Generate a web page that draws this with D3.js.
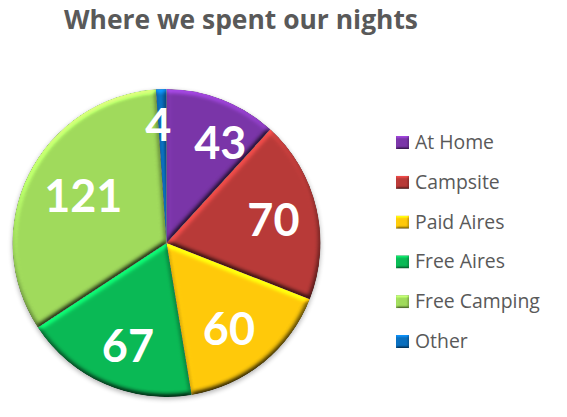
<!DOCTYPE html>
<html>
<head>
<meta charset="utf-8">
<style>
  html, body { margin: 0; padding: 0; background: #fff; }
  svg { display: block; }
</style>
<script src="https://cdn.jsdelivr.net/npm/d3@7"></script>
</head>
<body>
<svg id="chart"></svg>
<script>
const title = 'Where we spent our nights';
const categories = ['At Home', 'Campsite', 'Paid Aires', 'Free Aires', 'Free Camping', 'Other'];
const nights = [43, 70, 60, 67, 121, 4];
const colors = ['#7a35a8', '#b83a38', '#ffc90a', '#0ab955', '#a0da5c', '#0a6fbe'];

const width = 567;
const height = 417;
const cx = 166.5;
const cy = 243;
const radius = 154;

// excel nudged the labels, so each one gets its own distance and turn (degrees)
const labelDist = [0.74, 0.71, 0.69, 0.71, 0.62, 0.77];
const labelTurn = [7, 1, 3, -3, 3, -2];

const svg = d3.select('#chart').attr('width', width).attr('height', height);
const defs = svg.append('defs');

function addBevel(id, blur, scale) {
  const f = defs.append('filter')
    .attr('id', id)
    .attr('x', '-5%').attr('y', '-5%').attr('width', '110%').attr('height', '110%')
    .attr('color-interpolation-filters', 'sRGB');
  f.append('feGaussianBlur').attr('in', 'SourceAlpha').attr('stdDeviation', blur).attr('result', 'soft');
  f.append('feDiffuseLighting')
    .attr('in', 'soft').attr('surfaceScale', scale).attr('diffuseConstant', 1)
    .attr('lighting-color', '#fff').attr('result', 'lit')
    .append('feDistantLight').attr('azimuth', 255).attr('elevation', 45);
  f.append('feComposite')
    .attr('in', 'SourceGraphic').attr('in2', 'lit')
    .attr('operator', 'arithmetic')
    .attr('k1', 1.414).attr('k2', 0).attr('k3', 0).attr('k4', 0)
    .attr('result', 'shaded');
  f.append('feComposite').attr('in', 'shaded').attr('in2', 'SourceAlpha').attr('operator', 'in');
}
addBevel('bevel', 2.5, 2.2);
addBevel('bevelSmall', 1, 0.8);

const shadow = defs.append('filter')
  .attr('id', 'shadow')
  .attr('x', '-10%').attr('y', '-10%').attr('width', '120%').attr('height', '120%');
shadow.append('feGaussianBlur').attr('stdDeviation', 2.5);

svg.append('text')
  .attr('x', 64)
  .attr('y', 29)
  .attr('textLength', 354)
  .attr('lengthAdjust', 'spacingAndGlyphs')
  .attr('font-family', '"Open Sans", sans-serif')
  .attr('font-weight', 700)
  .attr('font-size', 27)
  .attr('fill', '#595959')
  .text(title);

const pie = d3.pie().sort(null)(nights);
const arc = d3.arc().innerRadius(0).outerRadius(radius);

const g = svg.append('g').attr('transform', `translate(${cx},${cy})`);

g.append('circle')
  .attr('cy', 2)
  .attr('r', radius)
  .attr('fill', '#000')
  .attr('opacity', 0.3)
  .attr('filter', 'url(#shadow)');

g.selectAll('path.slice')
  .data(pie)
  .join('path')
  .attr('class', 'slice')
  .attr('d', arc)
  .attr('fill', (d, i) => colors[i])
  .attr('filter', 'url(#bevel)');

g.selectAll('text.value')
  .data(pie)
  .join('text')
  .attr('class', 'value')
  .attr('transform', (d, i) => {
    const a = (d.startAngle + d.endAngle) / 2 + labelTurn[i] * Math.PI / 180;
    const r = radius * labelDist[i];
    return `translate(${Math.sin(a) * r},${-Math.cos(a) * r})`;
  })
  .attr('text-anchor', 'middle')
  .attr('dy', '0.36em')
  .attr('font-family', 'Lato, sans-serif')
  .attr('font-weight', 700)
  .attr('font-size', 45)
  .attr('fill', '#fff')
  .text((d) => d.value);

const legendY = d3.scalePoint().domain(categories).range([142, 341]);

const legend = svg.append('g')
  .selectAll('g')
  .data(categories)
  .join('g')
  .attr('transform', (d) => `translate(396,${legendY(d)})`);

legend.append('rect')
  .attr('y', -6)
  .attr('width', 13)
  .attr('height', 13)
  .attr('fill', (d, i) => colors[i])
  .attr('filter', 'url(#bevelSmall)');

legend.append('text')
  .attr('x', 19)
  .attr('dy', '0.36em')
  .attr('font-family', '"Open Sans", sans-serif')
  .attr('font-size', 19.4)
  .attr('fill', '#595959')
  .text((d) => d);
</script>
</body>
</html>
